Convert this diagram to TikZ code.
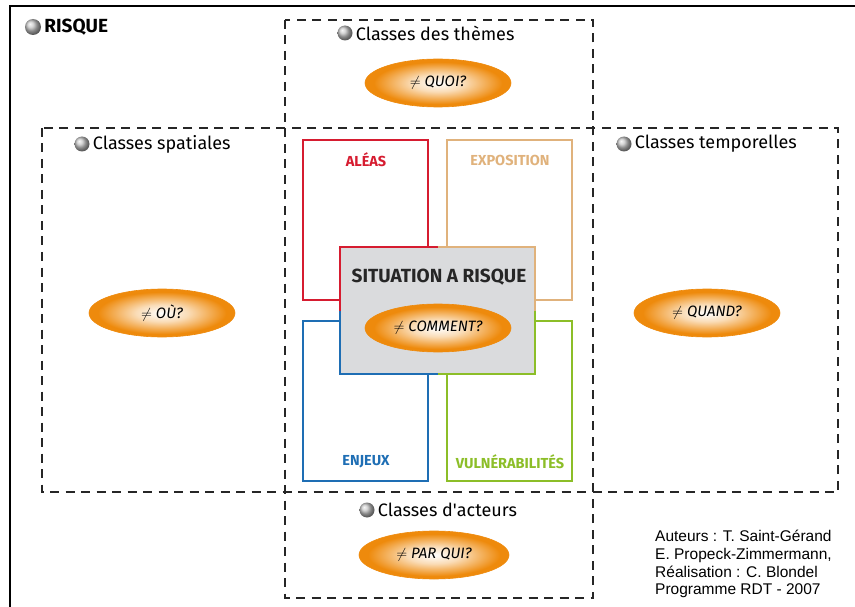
\documentclass[tikz,border=0pt]{standalone}
\usepackage{fontspec}
\setmainfont{Fira Sans}
\newfontfamily\firadroit{Fira Sans}
\newfontfamily\arial{Liberation Sans}
\usetikzlibrary{positioning,shapes.geometric}
\definecolor{rouge}{RGB}{214,28,48}
\definecolor{sable}{RGB}{224,178,124}
\definecolor{bleu}{RGB}{30,110,180}
\definecolor{vert}{RGB}{140,190,40}
\definecolor{grisbox}{RGB}{218,219,221}
\definecolor{orangeq}{RGB}{238,138,12}
\pgfdeclareradialshading{oeuf}{\pgfpoint{0bp}{0bp}}{color(0bp)=(white);
  color(9bp)=(white!70!orangeq); color(22bp)=(orangeq); color(50bp)=(orangeq)}
\begin{document}
\begin{tikzpicture}[x=1pt,y=-1pt,line cap=butt,line join=miter]
\tikzset{zone/.style={draw=black!85,line width=1.4pt,dash pattern=on 9pt off 6.5pt},
quest/.style={ellipse,draw=orangeq,line width=0.6pt,shading=oeuf,
  minimum width=146pt,minimum height=48pt,inner sep=0pt,
  font=\itshape\fontsize{15}{15}\selectfont},
boule/.style={circle,minimum size=15pt,inner sep=0pt,ball color=gray!45},
titre/.style={right=3pt of #1,font=\fontsize{18}{18}\selectfont,inner sep=0pt},
cadre/.style={draw=#1,line width=2.4pt,minimum width=125pt,minimum height=160pt,inner sep=0pt},
etiq/.style={font=\bfseries\fontsize{14.5}{14.5}\selectfont,inner sep=0pt}
}
\useasboundingbox (0,0) rectangle (855,607);
% cadre general
\draw[line width=2pt] (10,607)--(10,6)--(855,6);
\node[boule,minimum size=16pt] (bR) at (33,27) {};
\node[titre=bR,font=\bfseries\fontsize{19}{19}\selectfont] (risque) {RISQUE};
% zones en croix
\draw[zone] (285,20) rectangle (593,598);
\draw[zone] (42,128) rectangle (838,492);
% les quatre composantes
\node[cadre=rouge] (aleas) at (365.5,220) {};
\node[cadre=sable] (expo) at (509.5,220) {};
\node[cadre=bleu] (enjeux) at (365.5,401) {};
\node[cadre=vert] (vulne) at (509.5,401) {};
\node[etiq,text=rouge] (taleas) at (366,160) {ALÉAS};
\node[etiq,text=sable] (texpo) at (510,160) {EXPOSITION};
\node[etiq,text=bleu] (tenjeux) at (366,462) {ENJEUX};
\node[etiq,text=vert] (tvulne) at (510,462) {VULNÉRABILITÉS};
% situation a risque
\node[fill=grisbox,minimum width=195pt,minimum height=127pt,inner sep=0pt] (sit) at (437.5,310.5) {};
\draw[rouge,line width=2.4pt] (sit.west)--(sit.north west)--(sit.north);
\draw[sable,line width=2.4pt] (sit.north)--(sit.north east)--(sit.east);
\draw[vert,line width=2.4pt] (sit.east)--(sit.south east)--(sit.south);
\draw[bleu,line width=2.4pt] (sit.south)--(sit.south west)--(sit.west);
\node[font=\bfseries\fontsize{19}{19}\selectfont,text=black!85] (titsit) at (439,277) {SITUATION A RISQUE};
\node[quest] (comment) at (438,328) {$\neq$ COMMENT?};
% classes
\node[boule] (b1) at (345,33) {};
\node[titre=b1] (t1) {Classes des thèmes};
\node[quest] (quoi) at (438,83) {$\neq$ QUOI?};
\node[boule] (b2) at (82,144) {};
\node[titre=b2] (t2) {Classes spatiales};
\node[quest] (ou) at (162,313) {$\neq$ OÙ?};
\node[boule] (b3) at (624,144) {};
\node[titre=b3] (t3) {Classes temporelles};
\node[quest] (quand) at (707,313) {$\neq$ QUAND?};
\node[boule] (b4) at (367,510) {};
\node[titre=b4] (t4) {Classes d{\firadroit '}acteurs};
\node[quest,minimum width=150pt] (parqui) at (434,555) {$\neq$ PAR QUI?};
% auteurs
\node[anchor=north west,align=left,inner sep=0pt,font=\arial\fontsize{15.5}{17.7}\selectfont] (auteurs) at (655,530)
{Auteurs : T. Saint-Gérand\\E. Propeck-Zimmermann,\\Réalisation : C. Blondel\\Programme RDT - 2007};
\end{tikzpicture}
\end{document}
